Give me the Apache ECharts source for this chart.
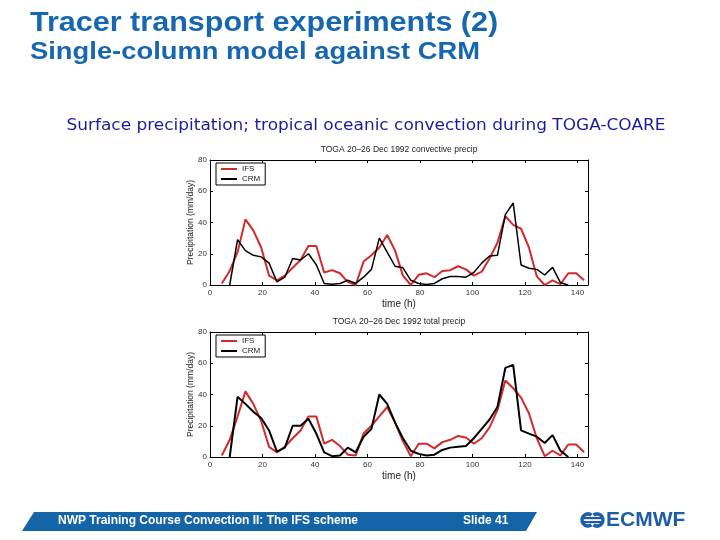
<!DOCTYPE html>
<html><head><meta charset="utf-8">
<script src="https://cdn.jsdelivr.net/npm/echarts@6/dist/echarts.min.js"></script>
<style>html,body{margin:0;padding:0;background:#fff}#c{width:720px;height:540px}</style>
</head><body><div id="c"></div>
<script>
// time (h) of each sample
const hours = [4.5,7.5,10.5,13.5,16.5,19.5,22.5,25.5,28.5,31.5,34.5,37.5,40.5,43.5,46.5,49.5,52.5,55.5,58.5,61.5,64.5,67.5,70.5,73.5,76.5,79.5,82.5,85.5,88.5,91.5,94.5,97.5,100.5,103.5,106.5,109.5,112.5,115.5,118.5,121.5,124.5,127.5,130.5,133.5,136.5,139.5,142.5];
// convective precip (mm/day)
const convIFS = [1,9,21,42,35,24,6,3,6,11, 16,25,25,8,9.5,7.5,2,0,15,19, 24,32,22,6,0,6.5,7.5,5,9,9.5, 12,10,6,8.5,17,27,44,38.5,36,24, 5.5,0,3,0.5,7.5,7.5,3];
const convCRM = [null,0,29,22,19,18,14,2,5,17, 16,20,13,1,0.5,1,3,1,5,10, 30,21,12,11,3,1,0.3,1,4,5.5, 5.5,5,8,14,18.6,19,45,52.5,12.8,10.7, 10,6.4,11.3,1.5,0,null,null];
// total precip (mm/day)
const totIFS = [1,11,26,42,34,23,6.5,3,6.5,12, 17,26,26,8.5,11,7,1.5,1,15,20, 26,32,22,10,0.5,8.5,8.5,5.5,9.5,11, 13.5,12.5,8.5,12,19,30,49,44,38,28, 12,0.5,4,1,8,8,3];
const totCRM = [null,0,38.5,34,29,25,17,3.5,6,20, 20,24.5,15,3,0.5,1,6,3,13,18, 40,34,22,12,4,2,1,1.5,4.5,6, 6.5,7,12,18,24,32,57,59,17,15, 13,9,14,4,0,null,null];
const xTicks = [0,20,40,60,80,100,120,140];
const yTicks = [0,20,40,60,80];
const seriesNames = ['IFS','CRM'];
const plotTitles = ['TOGA 20\u201326 Dec 1992 convective precip','TOGA 20\u201326 Dec 1992 total precip'];

const pairs = v => hours.map((h,i)=>[h, v[i]]);
const chart = echarts.init(document.getElementById('c'));
const grids = [{left:210, top:160, width:378, height:125},{left:210, top:332, width:378, height:125}];
const xAxes = [], yAxes = [];
grids.forEach((g,gi)=>{
  const common = {gridIndex:gi, type:'value', min:0, max:144, interval:20,
    axisLine:{onZero:false, lineStyle:{color:'#000', width:1}},
    axisTick:{inside:true, length:3, lineStyle:{color:'#000'}},
    splitLine:{show:false}};
  xAxes.push(Object.assign({}, common, {position:'bottom',
    axisLabel:{fontSize:8, color:'#333', margin:4, showMaxLabel:false,
      formatter: v => xTicks.includes(v) ? String(v) : ''},
    name:'time (h)', nameLocation:'middle', nameGap:14, nameTextStyle:{fontSize:10, color:'#222'}}));
  xAxes.push(Object.assign({}, common, {position:'top', axisLabel:{show:false}}));
  const ycommon = {gridIndex:gi, type:'value', min:0, max:80, interval:20,
    axisLine:{show:true, onZero:false, lineStyle:{color:'#000', width:1}},
    axisTick:{show:true, inside:true, length:3, lineStyle:{color:'#000'}},
    splitLine:{show:false}};
  yAxes.push(Object.assign({}, ycommon, {position:'left',
    axisLabel:{fontSize:8, color:'#333', margin:3, formatter: v => yTicks.includes(v) ? String(v) : ''},
    name:'Precipitation (mm/day)', nameLocation:'middle', nameGap:15, nameRotate:90, nameMoveOverlap:false,
    nameTextStyle:{fontSize:8.5, color:'#222'}}));
  yAxes.push(Object.assign({}, ycommon, {position:'right', axisLabel:{show:false}}));
});
const mk = (name, data, gi, color, width) => ({
  name, type:'line', xAxisIndex:gi*2, yAxisIndex:gi*2, data:pairs(data),
  showSymbol:false, symbol:'none', connectNulls:false, animation:false,
  lineStyle:{color, width}, itemStyle:{color}, z: name==='IFS'?2:3
});
const series = [
  mk(seriesNames[0], convIFS, 0, '#d42a2a', 2),
  mk(seriesNames[1], convCRM, 0, '#000', 1.5),
  mk(seriesNames[0], totIFS, 1, '#d42a2a', 2),
  mk(seriesNames[1], totCRM, 1, '#000', 2)
];
const legendCommon = {orient:'vertical', data:seriesNames, itemWidth:16, itemHeight:2, icon:'rect',
  itemGap:2, padding:[2,5,2,5], borderColor:'#000', borderWidth:1, backgroundColor:'#fff',
  textStyle:{fontSize:8, color:'#222'}, selectedMode:false};
const legends = [
  Object.assign({left:216, top:163}, legendCommon),
  Object.assign({left:216, top:335}, legendCommon)
];
const graphic = [
  {type:'text', x:30, y:9, scaleX:1.09, style:{text:'Tracer transport experiments (2)', font:'bold 28px "Liberation Sans", Arial, sans-serif', fill:'#1767b0'}},
  {type:'text', x:30, y:40, scaleX:1.14, style:{text:'Single-column model against CRM', font:'bold 24px "Liberation Sans", Arial, sans-serif', fill:'#1767b0'}},
  {type:'text', x:366, y:126, scaleX:1.06, style:{text:'Surface precipitation; tropical oceanic convection during TOGA-COARE', font:'16px "DejaVu Sans", sans-serif', fill:'#1c1c9a', textAlign:'center', textVerticalAlign:'middle'}},
  {type:'text', x:399, y:150, style:{text:plotTitles[0], font:'8.5px "Liberation Sans", sans-serif', fill:'#222', textAlign:'center', textVerticalAlign:'middle'}},
  {type:'text', x:399, y:322, style:{text:plotTitles[1], font:'8.5px "Liberation Sans", sans-serif', fill:'#222', textAlign:'center', textVerticalAlign:'middle'}},
  {type:'polygon', shape:{points:[[34,512],[537,512],[526,531],[22,531]]}, style:{fill:'#1464a8'}},
  {type:'text', x:58, y:521, style:{text:'NWP Training Course Convection II: The IFS scheme', font:'bold 12px "Liberation Sans", Arial, sans-serif', fill:'#fff', textVerticalAlign:'middle'}},
  {type:'text', x:463, y:521, style:{text:'Slide 41', font:'bold 12px "Liberation Sans", Arial, sans-serif', fill:'#fff', textVerticalAlign:'middle'}},
  {type:'arc', shape:{cx:588, cy:520, r:6, startAngle:Math.PI*0.3, endAngle:Math.PI*1.7}, style:{stroke:'#1f5ca8', lineWidth:3.5, fill:null}},
  {type:'arc', shape:{cx:597, cy:520, r:6, startAngle:-Math.PI*0.7, endAngle:Math.PI*0.7}, style:{stroke:'#1f5ca8', lineWidth:3.5, fill:null}},
  {type:'rect', shape:{x:584, y:517, width:17, height:2.2}, style:{fill:'#1f5ca8'}},
  {type:'rect', shape:{x:584, y:521, width:17, height:2.2}, style:{fill:'#1f5ca8'}},
  {type:'text', x:606, y:520, style:{text:'ECMWF', font:'bold 21px "Liberation Sans", Arial, sans-serif', fill:'#1f5ca8', textVerticalAlign:'middle'}}
];
chart.setOption({
  animation:false,
  backgroundColor:'#fff',
  grid: grids,
  xAxis: xAxes,
  yAxis: yAxes,
  legend: legends,
  series,
  graphic
});
</script></body></html>
